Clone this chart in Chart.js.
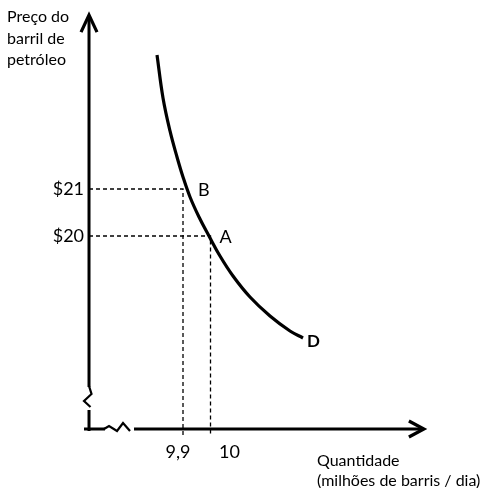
<!DOCTYPE html>
<html>
<head>
<meta charset="utf-8">
<script src="https://cdn.jsdelivr.net/npm/chart.js@4"></script>
<style>
  body { margin: 0; background: #fff; }
  canvas { display: block; }
</style>
</head>
<body>
<canvas id="demand" width="490" height="488"></canvas>
<script>
// =============================
// DATA
// =============================
const curveQ = [9.8055, 9.8273, 9.8527, 9.8782, 9.9, 9.9255, 9.9582, 9.9945, 10.0345, 10.0818, 10.1436, 10.2164, 10.2891, 10.3364];
const curveP = [23.851, 22.936, 22.234, 21.681, 21.255, 20.830, 20.404, 20.0, 19.574, 19.149, 18.702, 18.298, 17.979, 17.830];

const pointNames = ["B", "A"];
const pointQ = [9.9, 10];
const pointP = [21, 20];

const priceTicks = [21, 20];
const priceLabels = ["$21", "$20"];
const qtyTicks = [9.9, 10];
const qtyLabels = ["9,9", "10"];

const yTitle = ["Preço do", "barril de", "petróleo"];
const xTitle = ["Quantidade", "(milhões de barris / dia)"];
const curveName = "D";

// axis origin / extent in data units (axes are broken, so not zero)
const originQ = 9.5582, originP = 15.894;
const axisEndQ = 10.776, axisEndP = 24.70;

const FONT = "Lato, 'Liberation Sans', sans-serif";

// dashed guide lines from axes to each point
const guides = pointQ.map((q, i) => ({
  data: [{ x: originQ, y: pointP[i] }, { x: q, y: pointP[i] }, { x: q, y: originP - 0.13 }],
  showLine: true,
  borderColor: "#000",
  borderWidth: 1.3,
  borderDash: [4, 3],
  pointRadius: 0,
  tension: 0
}));

// =============================
// Axes, arrows, breaks, labels
// =============================
const decor = {
  id: "decor",
  afterDatasetsDraw(chart) {
    const ctx = chart.ctx;
    const xs = chart.scales.x, ys = chart.scales.y;
    const ox = xs.getPixelForValue(originQ);
    const oy = ys.getPixelForValue(originP);
    const topY = ys.getPixelForValue(axisEndP);
    const endX = xs.getPixelForValue(axisEndQ);

    ctx.save();
    ctx.strokeStyle = "#000";
    ctx.lineWidth = 3;
    ctx.lineCap = "butt";
    ctx.lineJoin = "miter";

    // y axis with break
    ctx.beginPath();
    ctx.moveTo(ox, topY + 2);
    ctx.lineTo(ox, oy - 42);
    ctx.moveTo(ox, oy - 19);
    ctx.lineTo(ox, oy + 2);
    ctx.stroke();
    ctx.lineWidth = 2.2;
    ctx.beginPath();
    ctx.moveTo(ox, oy - 43);
    ctx.lineTo(ox + 2.5, oy - 35);
    ctx.lineTo(ox - 5, oy - 28);
    ctx.lineTo(ox + 1.5, oy - 22);
    ctx.stroke();

    // x axis with break
    ctx.lineWidth = 3;
    ctx.beginPath();
    ctx.moveTo(ox - 5, oy);
    ctx.lineTo(ox + 16, oy);
    ctx.moveTo(ox + 45, oy);
    ctx.lineTo(endX - 2, oy);
    ctx.stroke();
    ctx.lineWidth = 2.2;
    ctx.beginPath();
    ctx.moveTo(ox + 15, oy);
    ctx.lineTo(ox + 20, oy - 3);
    ctx.lineTo(ox + 28, oy + 2);
    ctx.lineTo(ox + 34, oy - 6);
    ctx.lineTo(ox + 41, oy + 2);
    ctx.stroke();

    // arrow heads
    ctx.lineWidth = 3.2;
    ctx.beginPath();
    ctx.moveTo(ox - 8, topY + 17);
    ctx.lineTo(ox, topY);
    ctx.lineTo(ox + 8, topY + 17);
    ctx.moveTo(endX - 15, oy - 8);
    ctx.lineTo(endX, oy);
    ctx.lineTo(endX - 15, oy + 8);
    ctx.stroke();

    // text
    ctx.fillStyle = "#000";
    ctx.font = "16px " + FONT;
    ctx.textBaseline = "middle";
    ctx.textAlign = "left";
    yTitle.forEach((t, i) => ctx.fillText(t, 7, 17 + i * 21.5));
    xTitle.forEach((t, i) => ctx.fillText(t, 317, 461 + i * 20));

    ctx.font = "18px " + FONT;
    ctx.textAlign = "right";
    priceTicks.forEach((p, i) => ctx.fillText(priceLabels[i], ox - 5, ys.getPixelForValue(p)));
    ctx.textAlign = "center";
    ctx.fillText(qtyLabels[0], xs.getPixelForValue(qtyTicks[0]) - 5, oy + 23);
    ctx.fillText(qtyLabels[1], xs.getPixelForValue(qtyTicks[1]) + 19, oy + 23);

    ctx.textAlign = "left";
    ctx.fillText(pointNames[0], xs.getPixelForValue(pointQ[0]) + 15, ys.getPixelForValue(pointP[0]) + 1);
    ctx.fillText(pointNames[1], xs.getPixelForValue(pointQ[1]) + 9, ys.getPixelForValue(pointP[1]) + 1);

    ctx.font = "bold 17px " + FONT;
    ctx.fillText(curveName, xs.getPixelForValue(curveQ[curveQ.length - 1]) + 4, ys.getPixelForValue(curveP[curveP.length - 1]) + 4);
    ctx.restore();
  }
};

new Chart(document.getElementById("demand"), {
  type: "scatter",
  data: {
    datasets: [
      ...guides,
      {
        data: curveQ.map((q, i) => ({ x: q, y: curveP[i] })),
        showLine: true,
        borderColor: "#000",
        borderWidth: 3.2,
        pointRadius: 0,
        tension: 0.4
      }
    ]
  },
  options: {
    responsive: false,
    animation: false,
    layout: { padding: 0 },
    plugins: { legend: { display: false }, tooltip: { enabled: false } },
    scales: {
      x: { type: "linear", min: 9.2345, max: 11.0164, display: false },
      y: { type: "linear", min: 14.638, max: 25.021, display: false }
    }
  },
  plugins: [decor]
});
</script>
</body>
</html>
